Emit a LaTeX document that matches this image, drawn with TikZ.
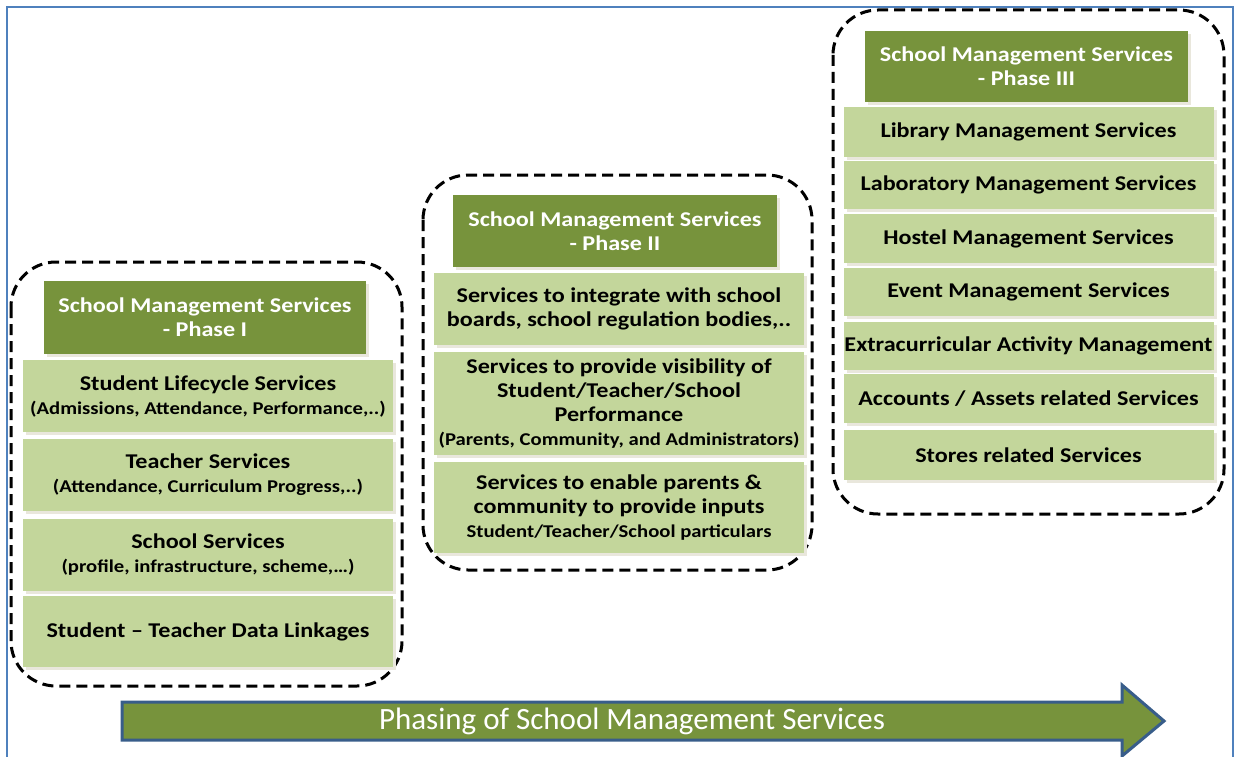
\documentclass[tikz,border=0pt]{standalone}
\usepackage{fontspec}
\setmainfont{Carlito}
\newfontfamily\boxfont{Carlito}[FakeStretch=1.15,Ligatures=TeX]
\usetikzlibrary{shadows}

\definecolor{oliveDark}{HTML}{77933C}
\definecolor{oliveLight}{HTML}{C3D69B}
\definecolor{shadowGrey}{HTML}{E9E7DC}
\definecolor{frameBlue}{HTML}{4F81BD}
\definecolor{arrowBlue}{HTML}{385D8A}

\newcommand\mainsz{\boxfont\fontsize{21}{24}\selectfont\bfseries}
\newcommand\subsz{\boxfont\fontsize{18}{22}\selectfont\bfseries}

\begin{document}
\begin{tikzpicture}
[x=1pt,y=-1pt,
every node/.style={align=center,inner sep=0pt,font=\mainsz},
header/.style={fill=oliveDark,text=white,minimum height=72pt,
  drop shadow={shadow xshift=3pt,shadow yshift=-3pt,fill=shadowGrey,opacity=1}},
item/.style={fill=oliveLight,text=black,minimum width=370pt,
  drop shadow={shadow xshift=3pt,shadow yshift=-3pt,fill=shadowGrey,opacity=1}},
phasebox/.style={draw=black,line width=3pt,dash pattern=on 11pt off 6pt,rounded corners=45pt},
]
\useasboundingbox (0,0) rectangle (1239,757);
\draw[frameBlue,line width=2pt] (7,757) -- (7,7) -- (1233,7) -- (1233,757);

% Phase I
\draw[phasebox] (11,262) rectangle (402,686);
\node[header,minimum width=322pt,minimum height=73pt] (hdI) at (205,317.5)
  {School Management Services\\- Phase I};
\node[item,minimum height=72pt] (lifecycle) at (208,396)
  {Student Lifecycle Services\\{\subsz (Admissions, Attendance, Performance,..)}};
\node[item,minimum height=72pt] (teacher) at (208,475)
  {Teacher Services\\{\subsz (Attendance, Curriculum Progress,..)}};
\node[item,minimum height=72pt] (school) at (208,554.5)
  {School Services\\{\subsz (profile, infrastructure, scheme,\dots)}};
\node[item,minimum height=71pt] (linkage) at (208,631.5)
  {Student – Teacher Data Linkages};

% Phase II
\draw[phasebox] (423,175) rectangle (812,570);
\node[header,minimum width=324pt] (hdII) at (615,231)
  {School Management Services\\- Phase II};
\node[item,minimum height=72pt] (integrate) at (619,309)
  {Services to integrate with school\\boards, school regulation bodies,..};
\node[item,minimum height=103pt] (visibility) at (619,403.5)
  {Services to provide visibility of\\Student/Teacher/School\\Performance\\{\subsz (Parents, Community, and Administrators)}};
\node[item,minimum height=91pt] (enable) at (619,507.5)
  {Services to enable parents \&\\community to provide inputs\\{\subsz Student/Teacher/School particulars}};

% Phase III
\draw[phasebox] (833,10) rectangle (1224,514);
\node[header,minimum width=323pt,minimum height=71pt] (hdIII) at (1026.5,66.5)
  {School Management Services\\- Phase III};
\node[item,minimum height=50pt] (library) at (1028.5,132) {Library Management Services};
\node[item,minimum height=48pt] (laboratory) at (1028.5,185) {Laboratory Management Services};
\node[item,minimum height=49pt] (hostel) at (1028.5,238.5) {Hostel Management Services};
\node[item,minimum height=48pt] (event) at (1028.5,292) {Event Management Services};
\node[item,minimum height=48pt] (extra) at (1028.5,346) {Extracurricular Activity Management};
\node[item,minimum height=49pt] (accounts) at (1028.5,398.5) {Accounts / Assets related Services};
\node[item,minimum height=50pt] (stores) at (1028.5,455) {Stores related Services};

% phasing arrow
\draw[fill=oliveDark,draw=arrowBlue,line width=3pt,line join=miter]
  (122,702) -- (1122,702) -- (1122,685) -- (1164,721) -- (1122,756) -- (1122,740) -- (122,740) -- cycle;
\node[font=\fontsize{31}{33}\selectfont,text=white] (phasing) at (632,721)
  {Phasing of School Management Services};
\end{tikzpicture}
\end{document}
